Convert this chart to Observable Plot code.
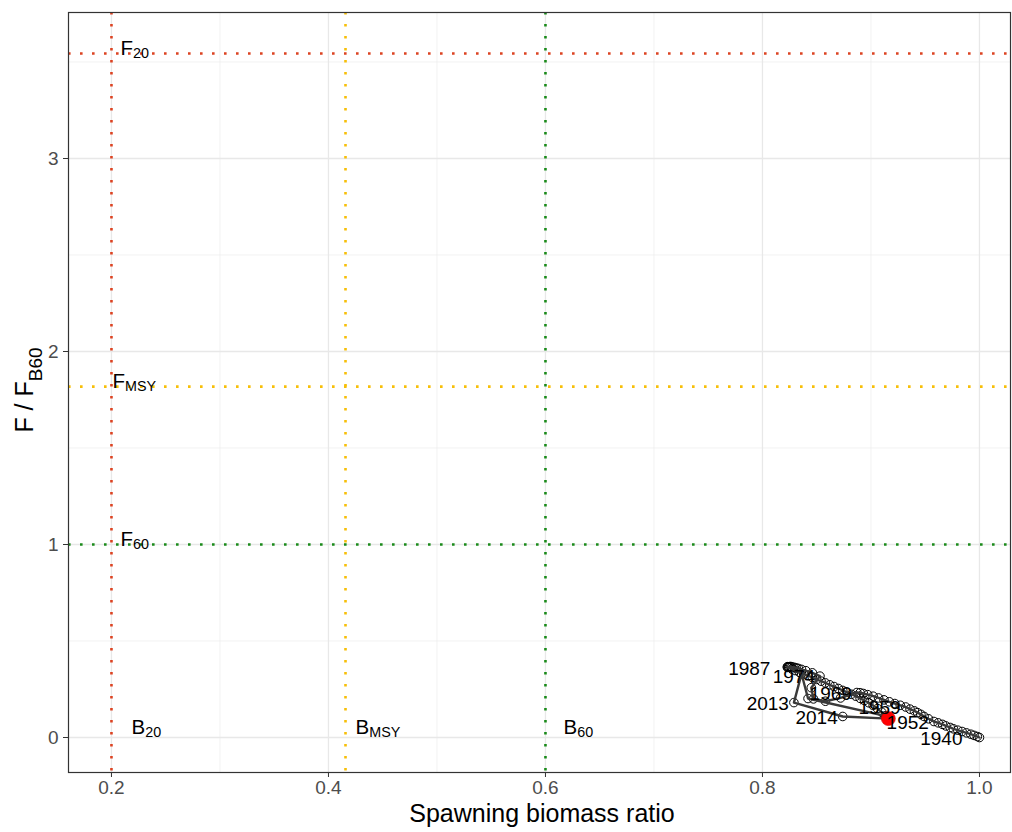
<!DOCTYPE html>
<html><head><meta charset="utf-8">
<script src="https://cdn.jsdelivr.net/npm/d3@7"></script>
<script src="https://cdn.jsdelivr.net/npm/@observablehq/plot@0.6"></script>
<style>body{margin:0;background:#fff;} #chart{width:1012px;height:832px;}</style>
</head><body><div id="chart"></div>
<script>
const years = d3.range(1940, 2016);
const ssbRatio = [
  1.000,0.998,0.995,0.992,0.988,0.984,0.980,0.976,0.973,0.969,
  0.966,0.962,0.958,0.953,0.949,0.946,0.943,0.940,0.936,0.932,
  0.927,0.922,0.917,0.912,0.907,0.902,0.897,0.893,0.890,0.887,
  0.872,0.858,0.847,0.845,0.853,0.846,0.840,0.836,0.833,0.831,
  0.829,0.827,0.826,0.825,0.824,0.823,0.824,0.823,
  0.827,0.830,0.834,0.838,0.842,0.846,0.850,0.854,0.858,0.862,
  0.866,0.870,0.874,0.878,0.882,0.886,0.890,0.894,0.898,0.902,
  0.906,0.910,0.913,0.842,0.836,0.829,0.874,0.916
];
const fRatio = [
  0.000,0.005,0.011,0.017,0.024,0.031,0.038,0.045,0.052,0.060,
  0.068,0.076,0.083,0.097,0.109,0.120,0.129,0.138,0.147,0.158,
  0.167,0.176,0.185,0.195,0.205,0.214,0.222,0.228,0.232,0.233,
  0.205,0.188,0.200,0.258,0.318,0.335,0.346,0.353,0.358,0.361,
  0.364,0.366,0.368,0.367,0.366,0.367,0.365,0.363,
  0.355,0.347,0.338,0.329,0.320,0.311,0.301,0.292,0.283,0.273,
  0.264,0.254,0.244,0.234,0.224,0.214,0.203,0.192,0.180,0.166,
  0.150,0.131,0.112,0.202,0.330,0.181,0.109,0.098
];
const labelYears = [1940, 1952, 1959, 1969, 1974, 1987, 2013, 2014];
const farLabelYears = [1940, 1987];
const currentYear = 2015;

const fRefValues = [3.544, 1.818, 1.0];
const fRefLabels = ["F_20", "F_MSY", "F_60"];
const bRefValues = [0.2, 0.4157, 0.6];
const bRefLabels = ["B_20", "B_MSY", "B_60"];
const refColors = ["#DC4322", "#F7BF08", "#1A8A1A"];

const xTicks = [0.2, 0.4, 0.6, 0.8, 1.0];
const xMinor = [0.3, 0.5, 0.7, 0.9];
const yTicks = [0, 1, 2, 3];
const yMinor = [0.5, 1.5, 2.5, 3.5];

const traj = years.map((year, i) => ({year, x: ssbRatio[i], y: fRatio[i]}));
const fRefs = fRefValues.map((v, i) => ({v, label: fRefLabels[i], color: refColors[i]}));
const bRefs = bRefValues.map((v, i) => ({v, label: bRefLabels[i], color: refColors[i]}));

const font = "'Liberation Sans', Arial, Helvetica, sans-serif";
const refText = {textAnchor: "start", lineAnchor: "bottom", fontSize: 20.5, fill: "black"};

const chart = Plot.plot({
  width: 1012,
  height: 832,
  marginLeft: 68,
  marginRight: 2,
  marginTop: 12,
  marginBottom: 60,
  style: {fontFamily: font, fontSize: "19px", background: "#fff", color: "#333"},
  x: {domain: [0.1604, 1.0286], ticks: xTicks, tickFormat: d3.format(".1f"), label: null, tickSize: 5, tickPadding: 3},
  y: {domain: [-0.1813, 3.7565], ticks: yTicks, tickFormat: d3.format("d"), label: null, tickSize: 5, tickPadding: 5},
  color: {type: "identity"},
  marks: [
    Plot.ruleX(xMinor, {stroke: "#EDEDED", strokeWidth: 0.7}),
    Plot.ruleY(yMinor, {stroke: "#EDEDED", strokeWidth: 0.7}),
    Plot.ruleX(xTicks, {stroke: "#E8E8E8", strokeWidth: 1.3}),
    Plot.ruleY(yTicks, {stroke: "#E8E8E8", strokeWidth: 1.3}),
    Plot.ruleY(fRefs, {y: "v", stroke: "color", strokeWidth: 2.6, strokeDasharray: "2.6,9.4"}),
    Plot.ruleX(bRefs, {x: "v", stroke: "color", strokeWidth: 2.6, strokeDasharray: "2.6,9.4"}),
    Plot.text([fRefs[0]], {x: bRefValues[0], y: "v", text: "label", dx: 9, dy: 1, ...refText}),
    Plot.text([fRefs[1]], {x: bRefValues[0], y: "v", text: "label", dx: 1, dy: 1, ...refText}),
    Plot.text([fRefs[2]], {x: bRefValues[0], y: "v", text: "label", dx: 9, dy: 1, ...refText}),
    Plot.text([bRefs[0]], {x: "v", y: 0, text: "label", dx: 20, dy: -4, ...refText}),
    Plot.text([bRefs[1]], {x: "v", y: 0, text: "label", dx: 10, dy: -4, ...refText}),
    Plot.text([bRefs[2]], {x: "v", y: 0, text: "label", dx: 18, dy: -4, ...refText}),
    Plot.dot(traj, {x: "x", y: "y", r: 4.3, stroke: "black", fill: "none", strokeWidth: 1}),
    Plot.line(traj, {x: "x", y: "y", stroke: "#3A3A3A", strokeWidth: 2.4}),
    Plot.dot(traj.filter(d => d.year === currentYear), {x: "x", y: "y", r: 7, fill: "#FF0000", stroke: "#D00000", strokeWidth: 0.6}),
    Plot.text(traj.filter(d => labelYears.includes(d.year) && !farLabelYears.includes(d.year)), {x: "x", y: "y", text: d => String(d.year), textAnchor: "end", dx: -5, dy: 1, fontSize: 19, fill: "black"}),
    Plot.text(traj.filter(d => farLabelYears.includes(d.year)), {x: "x", y: "y", text: d => String(d.year), textAnchor: "end", dx: -17, dy: 1, fontSize: 19, fill: "black"}),
    Plot.frame({stroke: "#333", strokeWidth: 1.2})
  ]
});

document.getElementById("chart").appendChild(chart);
const svgNode = chart.tagName.toLowerCase() === "svg" ? chart : chart.querySelector("svg");
const svg = d3.select(svgNode);

// tick labels like ggplot (grey30)
svg.selectAll("g[aria-label*='tick label']").attr("fill", "#4D4D4D").attr("font-size", 19);
svg.selectAll("g[aria-label*='tick label'] text").attr("fill", "#4D4D4D").style("font-size", "19px");

// subscripts
svg.selectAll("text").each(function() {
  const t = this.textContent;
  if (t.includes("_")) {
    const [base, sub] = t.split("_");
    const el = d3.select(this);
    el.text(null);
    el.append("tspan").text(base);
    el.append("tspan").attr("dy", 3).attr("font-size", "0.7em").text(sub);
  }
});

// axis titles
svg.append("text")
  .attr("x", 542).attr("y", 822)
  .attr("text-anchor", "middle")
  .attr("font-size", 25).attr("fill", "black").attr("font-family", font)
  .text("Spawning biomass ratio");
const yt = svg.append("text")
  .attr("transform", "translate(33,390) rotate(-90)")
  .attr("text-anchor", "middle")
  .attr("font-size", 25).attr("fill", "black").attr("font-family", font);
yt.append("tspan").text("F / F");
yt.append("tspan").attr("dy", 9).attr("font-size", 19).text("B60");
</script>
</body></html>
